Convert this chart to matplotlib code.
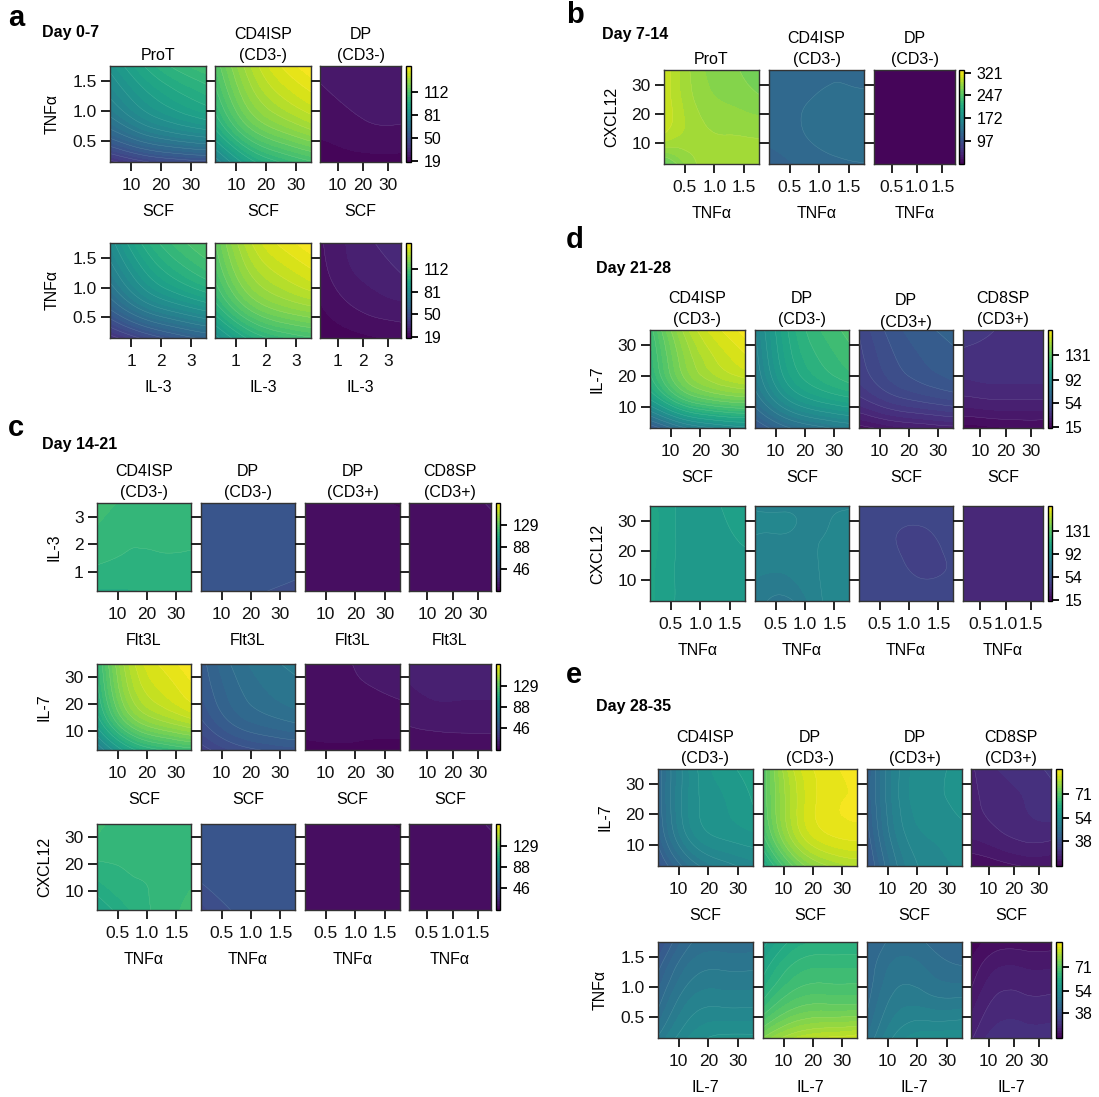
"""
Response-surface contour panels (days 0-35), viridis filled contours.
"""

import numpy as np
import matplotlib
matplotlib.use("Agg")
import matplotlib.pyplot as plt
import matplotlib.tri as mtri
from matplotlib import cm, colors

plt.rcParams["font.family"] = ["Liberation Sans", "DejaVu Sans"]

W, H = 1099, 1097

CONC_PTS = [3, 13.67, 24.33, 35]      # SCF, IL-7, Flt3L, CXCL12
TNF_PTS = [0.15, 0.68, 1.22, 1.75]
IL3_PTS = [0.3, 1.37, 2.43, 3.5]

CONC_TICKS = [10, 20, 30]
TNF_TICKS = [0.5, 1.0, 1.5]
IL3_TICKS = [1, 2, 3]

TITLES_AB = ["ProT", "CD4ISP\n(CD3-)", "DP\n(CD3-)"]
TITLES_CDE = ["CD4ISP\n(CD3-)", "DP\n(CD3-)", "DP\n(CD3+)", "CD8SP\n(CD3+)"]

# colour scale ranges and colour-key labels
A_RANGE, A_CTICKS = (17, 148), [19, 50, 81, 112]
B_RANGE, B_CTICKS = (20, 330), [97, 172, 247, 321]
C_RANGE, C_CTICKS = (4, 171), [46, 88, 129]
D_RANGE, D_CTICKS = (14, 172), [15, 54, 92, 131]
E_RANGE, E_CTICKS = (20.5, 88.5), [38, 54, 71]

# ---- panel a, Day 0-7 (rows = y from low to high) ----
A_SCF_PROT = [[35, 42, 46, 48], [62, 72, 78, 82], [76, 86, 93, 98], [84, 95, 103, 108]]
A_SCF_CD4 = [[72, 92, 102, 108], [95, 113, 122, 128], [106, 124, 134, 140], [112, 130, 141, 147]]
A_SCF_DP = [[18, 19, 19, 19], [21, 22, 23, 23], [23, 24, 25, 25], [24, 25, 26, 26]]
A_IL3_PROT = [[34, 44, 52, 58], [58, 72, 80, 86], [72, 87, 97, 104], [80, 96, 106, 112]]
A_IL3_CD4 = [[80, 96, 104, 108], [100, 116, 124, 128], [110, 127, 135, 140], [115, 133, 142, 147]]
A_IL3_DP = [[18, 19, 20, 21], [20, 23, 25, 26], [22, 26, 28, 30], [23, 27, 30, 32]]

# ---- panel b, Day 7-14 ----
B_TNF_PROT = [[255, 283, 287, 285], [300, 287, 283, 282], [305, 283, 275, 270], [305, 280, 270, 265]]
B_TNF_CD4 = [[115, 122, 126, 128], [124, 128, 132, 134], [127, 128, 130, 130], [128, 128, 128, 128]]
B_TNF_DP = [[22, 22, 23, 23], [22, 23, 23, 23], [23, 23, 23, 23], [23, 23, 23, 24]]

# ---- panel c, Day 14-21 ----
C_IL3_CD4 = [[108, 108, 109, 110], [113, 112, 112, 112], [116, 113, 113, 113], [120, 115, 113, 113]]
C_IL3_DPN = [[49, 48, 46, 44], [49, 49, 49, 48], [49, 49, 49, 49], [49, 49, 49, 49]]
C_IL3_DPP = [[9, 12, 12, 12], [12, 12, 11, 10], [12, 12, 10, 9], [12, 11, 9, 8]]
C_IL3_CD8 = [[12, 12, 12, 12], [12, 12, 12, 12], [12, 12, 12, 12], [12, 12, 12, 12.5]]
C_IL7_CD4 = [[72, 100, 112, 118], [100, 132, 145, 152], [110, 145, 158, 165], [114, 150, 163, 170]]
C_IL7_DPN = [[35, 42, 46, 48], [45, 55, 60, 63], [50, 60, 66, 69], [52, 63, 69, 72]]
C_IL7_DPP = [[6, 7, 7, 7], [11, 11, 10, 10], [12, 12, 12, 13], [12, 12, 13, 15]]
C_IL7_CD8 = [[9, 9, 10, 10], [13, 14, 14, 14], [16, 17, 17, 17], [17, 17, 17, 17]]
C_TNF_CD4 = [[100, 108, 114, 118], [108, 112, 113, 116], [114, 113, 113, 113], [118, 114, 113, 113]]
C_TNF_DPN = [[40, 46, 49, 49], [46, 49, 49, 49], [49, 49, 49, 49], [49, 49, 49, 49]]
C_TNF_DPP = [[9, 12, 12, 12], [12, 12, 11, 10], [12, 12, 10, 9], [12, 11, 9, 8]]
C_TNF_CD8 = [[12, 12, 12, 12], [12, 12, 12, 12], [12, 12, 12, 12], [12, 12, 12, 12.5]]

# ---- panel d, Day 21-28 ----
D_IL7_CD4 = [[55, 75, 85, 90], [105, 128, 138, 142], [118, 142, 155, 162], [122, 148, 162, 170]]
D_IL7_DPN = [[55, 68, 75, 80], [75, 95, 105, 110], [82, 105, 116, 122], [85, 108, 120, 126]]
D_IL7_DPP = [[20, 24, 26, 28], [38, 45, 49, 52], [44, 52, 57, 60], [46, 55, 60, 63]]
D_IL7_CD8 = [[16, 17, 18, 18], [30, 31, 31, 31], [36, 36, 36, 36], [40, 38, 37, 37]]
D_TNF_CD4 = [[106, 100, 99, 100], [106, 100, 99, 99], [107, 100, 99, 102], [107, 100, 100, 105]]
D_TNF_DPN = [[80, 76, 84, 88], [82, 82, 85, 87], [85, 85, 85, 86], [85, 85, 85, 85]]
D_TNF_DPP = [[49, 48, 48, 48], [49, 47, 45, 46], [49, 46, 45, 47], [49, 47, 47, 47]]
D_TNF_CD8 = [[30, 30, 30, 30], [30, 30, 30, 30], [30, 30, 30, 30], [30, 30, 30, 30.5]]

# ---- panel e, Day 28-35 ----
E_IL7_CD4 = [[38, 46, 50, 52], [42, 52, 55, 56], [43, 53, 56, 58], [43, 53, 57, 59]]
E_IL7_DPN = [[60, 72, 78, 80], [68, 80, 85, 86], [70, 81, 86, 87], [70, 82, 86, 88]]
E_IL7_DPP = [[38, 48, 52, 53], [40, 50, 53, 54], [41, 51, 54, 55], [41, 51, 54, 55]]
E_IL7_CD8 = [[22, 23, 24, 24], [26, 27, 28, 28], [27, 28, 29, 30], [27, 29, 30, 31]]
E_TNF_CD4 = [[48, 53, 55, 55], [44, 50, 51, 51], [41, 47, 48, 48], [37, 44, 45, 45]]
E_TNF_DPN = [[75, 80, 82, 83], [66, 71, 72, 72], [61, 66, 67, 67], [57, 62, 63, 63]]
E_TNF_DPP = [[46, 52, 54, 54], [44, 49, 49, 49], [43, 47, 46, 45], [42, 45, 44, 43]]
E_TNF_CD8 = [[27, 30, 30, 30], [25, 28, 28, 28], [23, 26, 26, 26], [21, 23, 23, 23]]


def px_box(x0, x1, y0, y1):
    return [x0 / W, 1 - y1 / H, (x1 - x0) / W, (y1 - y0) / H]


def smooth_surface(xpts, ypts, z):
    # refine the read-off grid with matplotlib's cubic triangle refiner
    u = np.linspace(0, 1, len(xpts))
    v = np.linspace(0, 1, len(ypts))
    U, V = np.meshgrid(u, v)
    tri = mtri.Triangulation(U.ravel(), V.ravel())
    fine, zf = mtri.UniformTriRefiner(tri).refine_field(
        np.asarray(z, float).ravel(), subdiv=4)
    fx = np.interp(fine.x, u, xpts)
    fy = np.interp(fine.y, v, ypts)
    return mtri.Triangulation(fx, fy, fine.triangles), zf


def draw_row(fig, xs, ys, cbx, xpts, ypts, grids, rng, cticks,
             xlabel, ylabel, xticks, yticks, titles=None, title_pads=None):
    levels = np.linspace(rng[0], rng[1], 41)
    norm = colors.Normalize(*rng)
    for i, ((x0, x1), z) in enumerate(zip(xs, grids)):
        ax = fig.add_axes(px_box(x0, x1, *ys))
        tri, zf = smooth_surface(xpts, ypts, z)
        ax.tricontourf(tri, zf, levels=levels, cmap="viridis", norm=norm,
                       extend="both")
        ax.tricontour(tri, zf, levels=levels[::2], colors="white",
                      linewidths=0.3, alpha=0.18)
        ax.set_xlim(xpts[0], xpts[-1])
        ax.set_ylim(ypts[0], ypts[-1])
        ax.set_xticks(xticks)
        ax.set_yticks(yticks)
        ax.tick_params(direction="out", length=6.5, width=1.3,
                       labelsize=12.5, pad=3, colors="#111111")
        ax.tick_params(axis="x", pad=5)
        if i == 0:
            ax.set_ylabel(ylabel, fontsize=11.5, labelpad=9)
        else:
            gap = x0 - xs[i - 1][1]
            ax.tick_params(axis="y", length=gap * 0.72, labelleft=False)
        ax.set_xlabel(xlabel, fontsize=11.5, labelpad=8)
        for s in ax.spines.values():
            s.set_linewidth(1.0)
            s.set_color("#333333")
        if titles:
            pad = title_pads[i] if title_pads else 4
            ax.set_title(titles[i], fontsize=11.5, pad=pad, linespacing=1.55)
    cax = fig.add_axes(px_box(cbx[0], cbx[1], *ys))
    sm = cm.ScalarMappable(norm=norm, cmap="viridis")
    cb = fig.colorbar(sm, cax=cax, ticks=cticks, boundaries=levels)
    cb.outline.set_linewidth(1.0)
    cax.tick_params(length=5, width=1.3, labelsize=11.5, pad=4)


fig = plt.figure(figsize=(W / 100, H / 100), dpi=100)

# panel a
XS_A = [(110, 206), (215, 311), (320, 401)]
draw_row(fig, XS_A, (66, 162), (406, 411), CONC_PTS, TNF_PTS,
         [A_SCF_PROT, A_SCF_CD4, A_SCF_DP], A_RANGE, A_CTICKS,
         "SCF", "TNFα", CONC_TICKS, TNF_TICKS, titles=TITLES_AB)
draw_row(fig, XS_A, (243, 338), (406, 411), IL3_PTS, TNF_PTS,
         [A_IL3_PROT, A_IL3_CD4, A_IL3_DP], A_RANGE, A_CTICKS,
         "IL-3", "TNFα", IL3_TICKS, TNF_TICKS)

# panel b
XS_B = [(664, 759), (769, 864), (874, 955)]
draw_row(fig, XS_B, (70, 164), (959, 964), TNF_PTS, CONC_PTS,
         [B_TNF_PROT, B_TNF_CD4, B_TNF_DP], B_RANGE, B_CTICKS,
         "TNFα", "CXCL12", TNF_TICKS, CONC_TICKS, titles=TITLES_AB)

# panel c
XS_C = [(97, 191), (201, 295), (305, 400), (409, 491)]
draw_row(fig, XS_C, (503, 591), (496, 500), CONC_PTS, IL3_PTS,
         [C_IL3_CD4, C_IL3_DPN, C_IL3_DPP, C_IL3_CD8], C_RANGE, C_CTICKS,
         "Flt3L", "IL-3", CONC_TICKS, IL3_TICKS, titles=TITLES_CDE)
draw_row(fig, XS_C, (664, 750), (496, 500), CONC_PTS, CONC_PTS,
         [C_IL7_CD4, C_IL7_DPN, C_IL7_DPP, C_IL7_CD8], C_RANGE, C_CTICKS,
         "SCF", "IL-7", CONC_TICKS, CONC_TICKS)
draw_row(fig, XS_C, (824, 910), (496, 500), TNF_PTS, CONC_PTS,
         [C_TNF_CD4, C_TNF_DPN, C_TNF_DPP, C_TNF_CD8], C_RANGE, C_CTICKS,
         "TNFα", "CXCL12", TNF_TICKS, CONC_TICKS)

# panel d
XS_D = [(650, 745), (755, 849), (859, 953), (963, 1043)]
draw_row(fig, XS_D, (330, 428), (1048, 1052), CONC_PTS, CONC_PTS,
         [D_IL7_CD4, D_IL7_DPN, D_IL7_DPP, D_IL7_CD8], D_RANGE, D_CTICKS,
         "SCF", "IL-7", CONC_TICKS, CONC_TICKS, titles=TITLES_CDE,
         title_pads=[4, 4, -1, 4])
draw_row(fig, XS_D, (506, 601), (1048, 1052), TNF_PTS, CONC_PTS,
         [D_TNF_CD4, D_TNF_DPN, D_TNF_DPP, D_TNF_CD8], D_RANGE, D_CTICKS,
         "TNFα", "CXCL12", TNF_TICKS, CONC_TICKS)

# panel e
XS_E = [(658, 753), (763, 857), (867, 962), (971, 1051)]
draw_row(fig, XS_E, (769, 866), (1056, 1062), CONC_PTS, CONC_PTS,
         [E_IL7_CD4, E_IL7_DPN, E_IL7_DPP, E_IL7_CD8], E_RANGE, E_CTICKS,
         "SCF", "IL-7", CONC_TICKS, CONC_TICKS, titles=TITLES_CDE)
draw_row(fig, XS_E, (942, 1038), (1056, 1062), CONC_PTS, TNF_PTS,
         [E_TNF_CD4, E_TNF_DPN, E_TNF_DPP, E_TNF_CD8], E_RANGE, E_CTICKS,
         "IL-7", "TNFα", CONC_TICKS, TNF_TICKS)

# panel letters and day labels
for letter, (x, y) in {"a": (8, 18), "b": (566, 15), "c": (8, 428),
                       "d": (566, 240), "e": (566, 675)}.items():
    fig.text(x / W, 1 - y / H, letter, fontsize=21, fontweight="bold",
             ha="left", va="center")
for day, (x, y) in {"Day 0-7": (42, 32), "Day 7-14": (602, 35),
                    "Day 14-21": (42, 445), "Day 21-28": (596, 269),
                    "Day 28-35": (596, 706)}.items():
    fig.text(x / W, 1 - y / H, day, fontsize=11.5, fontweight="bold",
             ha="left", va="center")

fig.savefig("out.png", dpi=100)
